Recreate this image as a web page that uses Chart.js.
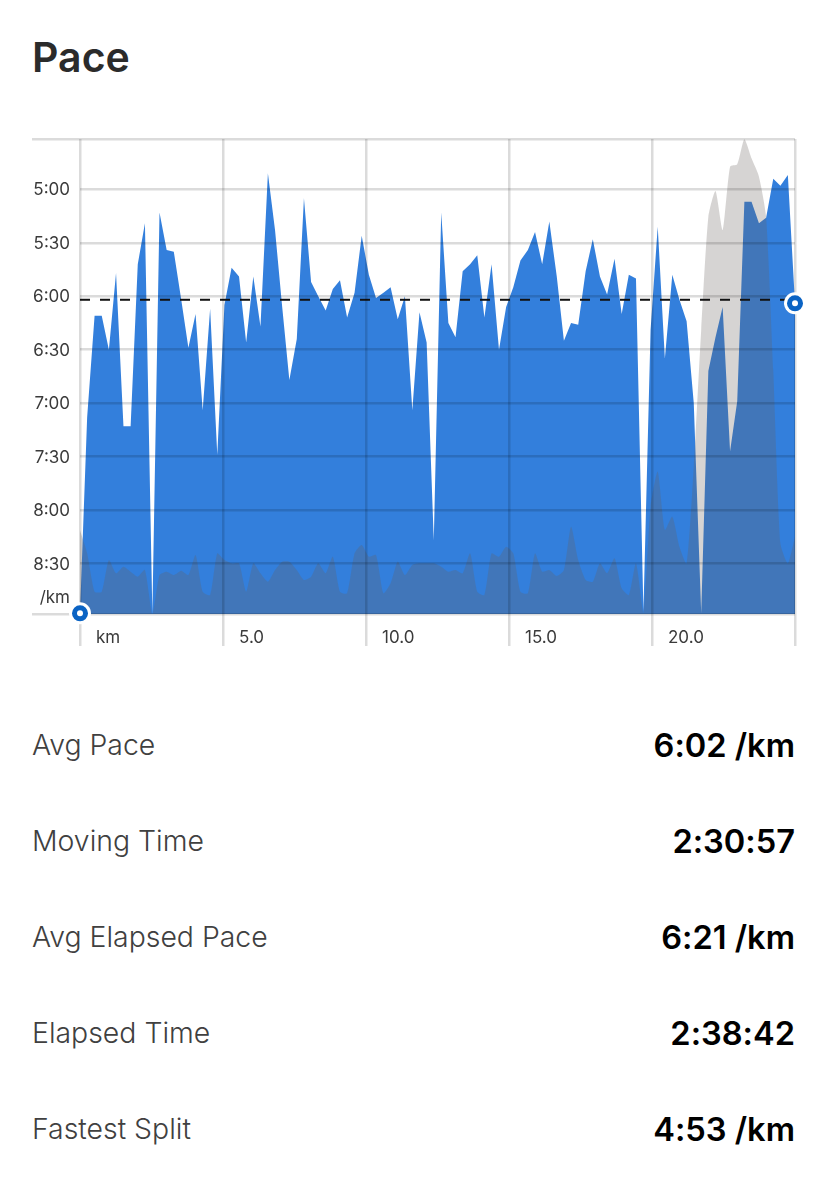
<!DOCTYPE html>
<html>
<head>
<meta charset="utf-8">
<title>Pace</title>
<script src="https://cdn.jsdelivr.net/npm/chart.js@4"></script>
<style>
  html, body { margin: 0; padding: 0; background: #fff; }
  body { position: relative; width: 828px; height: 1179px; overflow: hidden; font-family: Inter, sans-serif; }
  h1 { position: absolute; left: 32px; top: 33px; margin: 0; font-size: 41px; line-height: 48px; font-weight: 600; color: #2b2b2b; }
  canvas { position: absolute; left: 0; top: 0; }
  .row { position: absolute; left: 32px; width: 763px; height: 40px; line-height: 40px; display: flex; justify-content: space-between; }
  .row .label { font-size: 28.4px; font-weight: 300; color: #404040; }
  .row .value { font-size: 32.6px; font-weight: 600; color: #000; font-feature-settings: "calt" 0; }
</style>
</head>
<body>
<h1>Pace</h1>
<canvas id="paceChart" width="828" height="660"></canvas>
<div id="stats"></div>
<script>
// km along the run, one sample every quarter km or so
const distanceKm = [0,0.25,0.51,0.76,1.01,1.26,1.52,1.77,2.02,2.27,2.53,2.78,3.03,3.28,3.54,3.79,4.04,4.29,4.55,4.8,5.05,5.3,5.56,5.81,6.06,6.31,6.57,6.82,7.07,7.32,7.58,7.83,8.08,8.33,8.59,8.84,9.09,9.34,9.6,9.85,10.1,10.35,10.61,10.86,11.11,11.36,11.62,11.87,12.12,12.37,12.63,12.88,13.13,13.38,13.64,13.89,14.14,14.39,14.65,14.9,15.15,15.4,15.66,15.91,16.16,16.41,16.67,16.92,17.17,17.42,17.68,17.93,18.18,18.43,18.69,18.94,19.19,19.44,19.7,19.95,20.2,20.45,20.71,20.96,21.21,21.46,21.72,21.97,22.22,22.47,22.73,22.98,23.23,23.48,23.74,23.99,24.24,24.49,24.75,25]

// pace in seconds per km
const paceSeconds = [538,428,371,371,390,347,433,433,342,319,538,313,334,335,362,389,370,424,367,449,365,344,349,386,349,377,291,323,366,407,384,305,352,360,368,356,351,372,358,326,348,361,358,355,373,360,424,369,386,497,313,375,383,346,342,337,372,342,390,366,355,340,334,324,342,318,349,385,375,376,346,328,349,359,339,370,348,350,537,379,321,395,348,362,374,420,538,402,383,366,447,419,307,307,319,316,294,298,292,364]

// elevation in metres, only the shape is known
const elevationM = [25.2,18.2,6.7,6.7,16.2,12.2,14.2,12.7,11.2,13.2,0,11.7,12.7,11.7,13,11.7,17.7,6.7,5.7,18.2,16.2,15.2,15.2,6.7,15.2,12.2,9.7,13.2,15.7,15.7,13.2,10.2,11.2,15.2,12.2,17.2,6.7,6.2,18.2,20.7,17.2,17.7,6.2,9.2,15.7,11.7,14.7,15.2,15.2,15.2,14.2,12.7,13.2,12.2,18.2,6.7,5.7,18.2,17.2,20.2,18.2,6.7,6.2,18.2,12.7,13.2,11.4,13.2,26.2,16.2,10.2,9.7,15.2,12.2,16.7,7.7,5.7,15.2,0.2,32.2,42.7,25.2,29.2,20.2,15.2,44.2,85.2,119.2,126.9,115.2,134.2,134.9,142.4,136.7,131.2,119.2,73.2,21.2,15.2,23.2]

const avgPaceSeconds = 362
const paceTicks = [271.75, 300, 330, 360, 390, 420, 450, 480, 510, 529, 538.4]
const kmTicks = [0, 5, 10, 15, 20, 25]

const statLabels = ["Avg Pace", "Moving Time", "Avg Elapsed Pace", "Elapsed Time", "Fastest Split"]
const statValues = ["6:02 /km", "2:30:57", "6:21 /km", "2:38:42", "4:53 /km"]

const GRID = "rgba(0,0,0,0.14)"

const fmtPace = (s) => {
  if (s === 529) return "/km"
  if (s % 30 !== 0) return ""
  return Math.floor(s / 60) + ":" + String(s % 60).padStart(2, "0")
}

// the round markers on the first and last pace sample
const endMarkers = {
  id: "endMarkers",
  afterDraw(chart) {
    const pts = chart.getDatasetMeta(2).data
    const ctx = chart.ctx
    ;[pts[0], pts[pts.length - 1]].forEach((p) => {
      ;[[11, "#fff"], [8, "#0a63c4"], [3, "#fff"]].forEach(([r, c]) => {
        ctx.beginPath()
        ctx.arc(p.x, p.y, r, 0, Math.PI * 2)
        ctx.fillStyle = c
        ctx.fill()
      })
    })
  },
}

new Chart(document.getElementById("paceChart"), {
  type: "line",
  data: {
    // chart.js paints the last dataset first, so pace goes at the end
    datasets: [
      {
        data: [{ x: 0, y: avgPaceSeconds }, { x: 25, y: avgPaceSeconds }],
        yAxisID: "y",
        borderColor: "#111",
        borderWidth: 2,
        borderDash: [10, 10],
        pointRadius: 0,
        fill: false,
      },
      {
        data: distanceKm.map((km, i) => ({ x: km, y: elevationM[i] })),
        yAxisID: "yElev",
        backgroundColor: "rgba(104,96,92,0.27)",
        borderWidth: 0,
        pointRadius: 0,
        fill: "start",
        tension: 0.2,
      },
      {
        data: distanceKm.map((km, i) => ({ x: km, y: paceSeconds[i] })),
        yAxisID: "y",
        backgroundColor: "#337fdc",
        borderWidth: 0,
        pointRadius: 0,
        fill: "start",
        tension: 0,
      },
    ],
  },
  options: {
    responsive: false,
    animation: false,
    devicePixelRatio: 1,
    layout: { padding: { top: 139, right: 33, left: 0, bottom: 0 } },
    plugins: { legend: { display: false }, tooltip: { enabled: false } },
    scales: {
      x: {
        type: "linear",
        min: 0,
        max: 25,
        afterBuildTicks: (axis) => { axis.ticks = kmTicks.map((v) => ({ value: v })) },
        afterFit: (axis) => { axis.height = 46 },
        border: { display: false },
        grid: { color: GRID, lineWidth: 2.5, tickLength: 32, tickColor: GRID, tickWidth: 2.5, z: 1 },
        ticks: {
          align: "start",
          labelOffset: 16,
          padding: -18,
          maxRotation: 0,
          autoSkip: false,
          color: "#3a3a3a",
          font: { family: "Inter", size: 17 },
          callback: (v) => (v === 0 ? "km" : v === 25 ? "" : v.toFixed(1)),
        },
      },
      y: {
        reverse: true,
        min: 271.75,
        max: 538.4,
        afterBuildTicks: (axis) => { axis.ticks = paceTicks.map((v) => ({ value: v })) },
        afterFit: (axis) => { axis.width = 80 },
        border: { display: false },
        grid: {
          lineWidth: 2.5,
          tickLength: 48,
          tickWidth: 2.5,
          z: 1,
          color: (ctx) => (ctx.tick && ctx.tick.value === 529 ? "transparent" : GRID),
          tickColor: (ctx) => (ctx.tick && ctx.tick.value % 30 !== 0 && ctx.tick.value !== 529 ? GRID : "transparent"),
        },
        ticks: {
          padding: -38,
          labelOffset: 1,
          autoSkip: false,
          color: "#3a3a3a",
          font: { family: "Inter", size: 17 },
          callback: fmtPace,
        },
      },
      yElev: { display: false, min: 0, max: 142.5 },
    },
  },
  plugins: [endMarkers],
})

const stats = document.getElementById("stats")
statLabels.forEach((label, i) => {
  const row = document.createElement("div")
  row.className = "row"
  row.style.top = 725 + i * 96 + "px"
  row.innerHTML = '<span class="label">' + label + '</span><span class="value">' + statValues[i] + "</span>"
  stats.appendChild(row)
})
</script>
</body>
</html>
